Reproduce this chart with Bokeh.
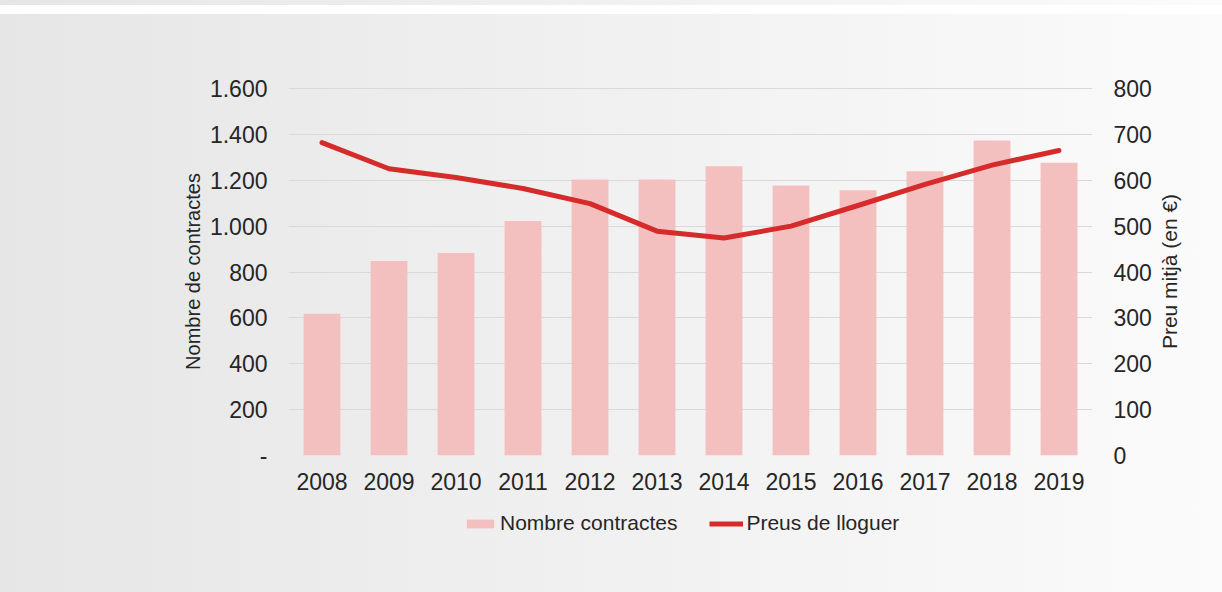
from bokeh.plotting import figure
from bokeh.layouts import column, row
from bokeh.models import Range1d, LinearAxis, FixedTicker, Legend, LegendItem, FactorRange, Title
from bokeh.embed import file_html
from bokeh.resources import INLINE

years = ["2008", "2009", "2010", "2011", "2012", "2013", "2014", "2015", "2016", "2017", "2018", "2019"]
contracts = [618, 848, 883, 1022, 1203, 1203, 1261, 1177, 1156, 1239, 1373, 1276]
prices = [682, 625, 606, 582, 549, 489, 474, 500, 545, 591, 633, 665]
left_ticks = [0, 200, 400, 600, 800, 1000, 1200, 1400, 1600]
left_labels = ["-", "200", "400", "600", "800", "1.000", "1.200", "1.400", "1.600"]
right_ticks = [0, 100, 200, 300, 400, 500, 600, 700, 800]
legend_labels = ["Nombre contractes", "Preus de lloguer"]
left_title = "Nombre de contractes"
right_title = "Preu mitjà (en €)"

FONT = "Liberation Sans"
BAR_COLOR = "#f4bfbf"
LINE_COLOR = "#d62b2b"
TEXT_COLOR = "#262626"

p = figure(width=1155, height=505, x_range=FactorRange(*years, range_padding=0),
           y_range=Range1d(0, 1604.4), output_backend="svg", toolbar_location=None,
           min_border_left=288, min_border_right=63, min_border_top=87, min_border_bottom=50)
p.extra_y_ranges = {"price": Range1d(0, 802.2)}
p.background_fill_alpha = 0
p.border_fill_alpha = 0
p.outline_line_color = None

p.vbar(x=years, top=contracts, width=0.55, fill_color=BAR_COLOR, line_color=None)
p.line(x=years, y=prices, y_range_name="price", line_color=LINE_COLOR, line_width=5,
       line_join="round", line_cap="round")

p.xgrid.grid_line_color = None
p.ygrid.grid_line_color = "#d9d9d9"
p.ygrid.grid_line_width = 1
p.ygrid.ticker = FixedTicker(ticks=left_ticks)

ya = p.yaxis[0]
ya.ticker = FixedTicker(ticks=left_ticks)
ya.major_label_overrides = {t: l for t, l in zip(left_ticks, left_labels)}
ya.axis_label = left_title
ya.axis_label_text_font = FONT
ya.axis_label_text_font_style = "normal"
ya.axis_label_text_color = TEXT_COLOR
ya.axis_label_text_font_size = "20px"
ya.axis_label_standoff = 3

ra = LinearAxis(y_range_name="price", ticker=FixedTicker(ticks=right_ticks))
p.add_layout(ra, "right")

for ax in [ya, ra, p.xaxis[0]]:
    ax.axis_line_color = None
    ax.major_tick_line_color = None
    ax.minor_tick_line_color = None
    ax.major_tick_out = 0
    ax.major_tick_in = 0
    ax.minor_tick_out = 0
    ax.major_label_standoff = 21
    ax.major_label_text_font = FONT
    ax.major_label_text_font_size = "23px"
    ax.major_label_text_color = TEXT_COLOR
p.xaxis[0].major_label_standoff = 17

# right-hand axis title, reading bottom to top
t = figure(width=67, height=505, output_backend="svg", toolbar_location=None,
           x_axis_location=None, y_axis_location=None,
           min_border_left=0, min_border_right=0, min_border_top=87, min_border_bottom=50)
t.background_fill_alpha = 0
t.border_fill_alpha = 0
t.outline_line_color = None
t.grid.grid_line_color = None
t.add_layout(Title(text=right_title, align="center", text_font=FONT, text_font_size="21px",
                   text_font_style="normal", text_color=TEXT_COLOR, standoff=0, offset=0), "left")

# legend strip (separate figure so the legend is not clipped by the frame);
# its proxy glyphs lie outside the strip's visible range
q = figure(width=1222, height=87, output_backend="svg", toolbar_location=None,
           x_range=FactorRange(*years), y_range=Range1d(50000, 50001),
           x_axis_location=None, y_axis_location=None,
           min_border_left=288, min_border_right=130, min_border_top=0, min_border_bottom=0)
q.background_fill_alpha = 0
q.border_fill_alpha = 0
q.outline_line_color = None
q.grid.grid_line_color = None
lb = q.vbar(x=years, top=contracts, width=0.55, fill_color=BAR_COLOR, line_color=None)
ll = q.line(x=years, y=prices, line_color=LINE_COLOR, line_width=5)

legend = Legend(items=[LegendItem(label=legend_labels[0], renderers=[lb]),
                       LegendItem(label=legend_labels[1], renderers=[ll])],
                orientation="horizontal", location=(175, 57),
                background_fill_alpha=0, border_line_color=None,
                label_text_font=FONT, label_text_font_size="21px", label_text_color=TEXT_COLOR,
                glyph_width=34, glyph_height=11, label_standoff=3, spacing=32,
                margin=0, padding=4)
q.add_layout(legend, "center")

layout = column(row(p, t, spacing=0), q, spacing=0,
                styles={"background": "linear-gradient(#ffffff, #ffffff) 0 5px / 100% 9px no-repeat, linear-gradient(to right, #e6e6e6, #fbfbfb)"})

open("out.html", "w").write(file_html(layout, INLINE))
